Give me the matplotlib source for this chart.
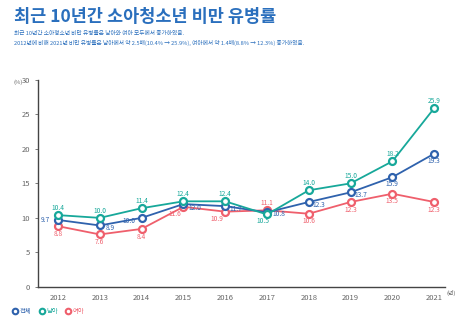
import matplotlib
matplotlib.use("Agg")
import matplotlib.pyplot as plt
from matplotlib.lines import Line2D

plt.rcParams['font.family'] = ['Noto Sans CJK KR', 'DejaVu Sans']

years = [2012, 2013, 2014, 2015, 2016, 2017, 2018, 2019, 2020, 2021]
total = [9.7, 8.9, 10.0, 12.0, 11.7, 10.8, 12.3, 13.7, 15.9, 19.3]
boys = [10.4, 10.0, 11.4, 12.4, 12.4, 10.5, 14.0, 15.0, 18.2, 25.9]
girls = [8.8, 7.6, 8.4, 11.6, 10.9, 11.1, 10.6, 12.3, 13.5, 12.3]
series_names = ['전체', '남아', '여아']

c_total = '#2f62ad'
c_boys = '#17a89a'
c_girls = '#ef5f6c'
title_color = '#2a6fbd'

# label offsets (dx in years, dy in %) per point
off_total = [(-0.3, 0.0), (0.25, -0.4), (-0.3, -0.5), (0.28, -0.5), (0.25, -0.4),
             (0.28, -0.2), (0.25, -0.4), (0.25, -0.4), (0.0, -1.0), (0.0, -1.1)]
off_boys = [(0, 1.0), (0, 1.0), (0, 1.0), (0, 1.0), (0, 1.0),
            (-0.1, -1.0), (0, 1.0), (0, 1.0), (0, 1.0), (0, 1.1)]
off_girls = [(0, -1.1), (0, -1.1), (0, -1.1), (-0.2, -1.0), (-0.2, -1.0),
             (0, 1.0), (0, -1.1), (0, -1.1), (0, -1.1), (0, -1.1)]

fig = plt.figure(figsize=(4.68, 3.26), dpi=100)
ax = fig.add_axes([0.081, 0.12, 0.87, 0.635])

for vals, col, offs in [(girls, c_girls, off_girls), (total, c_total, off_total), (boys, c_boys, off_boys)]:
    ax.plot(years, vals, color=col, lw=1.3, marker='o', ms=5, mfc='white', mec=col, mew=1.6, zorder=3)
    for x, v, (dx, dy) in zip(years, vals, offs):
        ax.text(x + dx, v + dy, f"{v:.1f}", color=col, fontsize=4.8, ha='center', va='center', zorder=4)

ax.set_xlim(2011.52, 2021.26)
ax.set_ylim(0, 30)
ax.set_xticks(years)
ax.set_yticks([0, 5, 10, 15, 20, 25, 30])
ax.tick_params(axis='both', labelsize=5.5, colors='#666666', length=2, width=0.6)
ax.tick_params(axis='x', length=0, pad=5)
for s in ['top', 'right']:
    ax.spines[s].set_visible(False)
for s in ['left', 'bottom']:
    ax.spines[s].set_color('#444444')
    ax.spines[s].set_linewidth(1.0)

fig.text(0.028, 0.747, '(%)', fontsize=4.2, color='#666666', ha='left', va='center')
fig.text(0.955, 0.10, '(년)', fontsize=4.2, color='#666666', ha='left', va='center')

fig.text(0.03, 0.948, '최근 10년간 소아청소년 비만 유병률', fontsize=12.6, fontweight='bold',
         color=title_color, ha='left', va='center')
fig.text(0.03, 0.898, '최근 10년간 소아청소년 비만 유병률은 남아와 여아 모두에서 증가하였음.',
         fontsize=4.1, color=title_color, ha='left', va='center')
fig.text(0.03, 0.867, '2012년에 비해 2021년 비만 유병률은 남아에서 약 2.5배(10.4% → 25.9%), 여아에서 약 1.4배(8.8% → 12.3%) 증가하였음.',
         fontsize=4.1, color=title_color, ha='left', va='center')

handles = [Line2D([], [], color=c, marker='o', ms=4, mfc='white', mec=c, mew=1.5, lw=0)
           for c in [c_total, c_boys, c_girls]]
leg = fig.legend(handles, series_names, loc='center left', bbox_to_anchor=(0.015, 0.045), ncol=3,
                 frameon=False, fontsize=4.6, handletextpad=0.3, columnspacing=1.2, handlelength=0.8)
for t, c in zip(leg.get_texts(), [c_total, c_boys, c_girls]):
    t.set_color(c)

fig.savefig('out.png', dpi=100)
